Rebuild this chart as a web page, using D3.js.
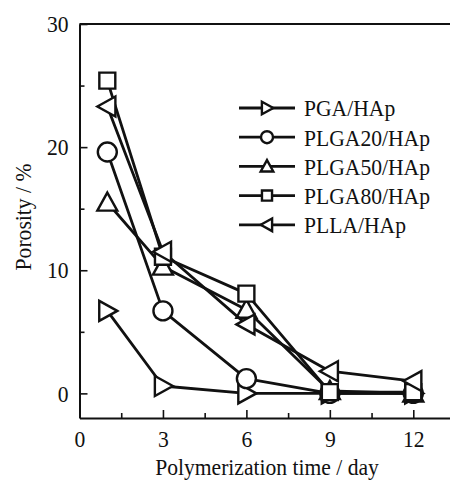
<!DOCTYPE html>
<html><head><meta charset="utf-8">
<script src="https://cdn.jsdelivr.net/npm/d3@7"></script>
<style>
body{margin:0;background:#fff;}
text{font-family:"Liberation Serif","Times New Roman",serif;fill:#111;}
</style></head><body>
<svg id="c" width="450" height="482"></svg>
<script>
const days = [1, 3, 6, 9, 12];
const seriesNames = ["PGA/HAp", "PLGA20/HAp", "PLGA50/HAp", "PLGA80/HAp", "PLLA/HAp"];
const seriesSymbols = ["triRight", "circle", "triUp", "square", "triLeft"];
const pgaHAp = [6.7, 0.6, 0, 0, 0];
const plga20HAp = [19.6, 6.7, 1.2, 0, 0];
const plga50HAp = [15.5, 10.3, 6.8, 0.2, 0];
const plga80HAp = [25.4, 11.1, 8.1, 0.1, 0.1];
const pllaHAp = [23.3, 11.5, 5.6, 1.8, 1.0];
const seriesValues = [pgaHAp, plga20HAp, plga50HAp, plga80HAp, pllaHAp];
const xTicks = [0, 3, 6, 9, 12];
const xMinorTicks = [1.5, 4.5, 7.5, 10.5];
const yTicks = [0, 10, 20, 30];
const yMinorTicks = [5, 15, 25];
const xTitle = "Polymerization time / day";
const yTitle = "Porosity / %";

const svg = d3.select("#c");
const L = 79.5, R = 455, T = 24, B = 418;
const x = d3.scaleLinear().domain([0, 13.5]).range([L, R]);
const y = d3.scaleLinear().domain([-2, 30]).range([B, T]);
const FS = 24, SX = 0.9;

function sym(type, s) {
  const p = d3.path();
  if (type === "circle") { p.arc(0, 0, s / 2, 0, 2 * Math.PI); p.closePath(); return p.toString(); }
  if (type === "square") { const h = s * 0.42; p.rect(-h, -h, 2 * h, 2 * h); return p.toString(); }
  const a = s * 0.5, b = s * 0.5;
  let pts;
  if (type === "triUp") pts = [[0, -b * 1.05], [a * 1.05, b * 0.85], [-a * 1.05, b * 0.85]];
  if (type === "triRight") pts = [[b * 1.05, 0], [-b * 0.85, -a * 1.05], [-b * 0.85, a * 1.05]];
  if (type === "triLeft") pts = [[-b * 1.05, 0], [b * 0.85, -a * 1.05], [b * 0.85, a * 1.05]];
  p.moveTo(pts[0][0], pts[0][1]); p.lineTo(pts[1][0], pts[1][1]); p.lineTo(pts[2][0], pts[2][1]); p.closePath();
  return p.toString();
}

// axes
const gx = svg.append("g").attr("transform", `translate(0,${B})`)
  .call(d3.axisBottom(x).tickValues(xTicks).tickSizeInner(-8).tickSizeOuter(0).tickPadding(11.5).tickFormat(d3.format("d")));
svg.append("g").attr("transform", `translate(0,${B})`)
  .call(d3.axisBottom(x).tickValues(xMinorTicks).tickSizeInner(-5).tickSizeOuter(0).tickFormat(""))
  .select(".domain").remove();
const gy = svg.append("g").attr("transform", `translate(${L},0)`)
  .call(d3.axisLeft(y).tickValues(yTicks).tickSizeInner(-8).tickSizeOuter(0).tickPadding(11).tickFormat(d3.format("d")));
svg.append("g").attr("transform", `translate(${L},0)`)
  .call(d3.axisLeft(y).tickValues(yMinorTicks).tickSizeInner(-5).tickSizeOuter(0).tickFormat(""))
  .select(".domain").remove();
svg.selectAll(".domain").attr("stroke", "#111").attr("stroke-width", 2);
svg.selectAll(".tick line").attr("stroke", "#111").attr("stroke-width", 1.6);
svg.selectAll(".tick text").style("font-family", '"Liberation Serif","Times New Roman",serif').style("font-size", FS + "px").attr("fill", "#111")
  .attr("transform", `scale(${SX},1)`);
gy.selectAll(".tick text").attr("x", -11 / SX);
svg.append("line").attr("x1", L).attr("x2", R).attr("y1", T).attr("y2", T).attr("stroke", "#111").attr("stroke-width", 2);

// titles
svg.append("text").attr("transform", `translate(267,475) scale(${SX},1)`).attr("text-anchor", "middle").style("font-size", FS + "px").text(xTitle);
svg.append("text").attr("transform", `translate(31,217) rotate(-90) scale(${SX},1)`).attr("text-anchor", "middle").style("font-size", FS + "px").text(yTitle);

// series
const line = d3.line().x((d, i) => x(days[i])).y(d => y(d));
seriesValues.forEach((vals, si) => {
  const g = svg.append("g");
  g.append("path").attr("d", line(vals)).attr("fill", "none").attr("stroke", "#111").attr("stroke-width", 2.8).attr("stroke-linejoin", "round");
  g.selectAll("path.m").data(vals).join("path").attr("class", "m")
    .attr("transform", (d, i) => `translate(${x(days[i])},${y(d)})`)
    .attr("d", sym(seriesSymbols[si], 19)).attr("fill", "#fff").attr("stroke", "#111").attr("stroke-width", 2.4);
});

// legend
const lg = svg.append("g");
seriesNames.forEach((name, i) => {
  const yy = 108 + i * 29.2;
  lg.append("line").attr("x1", 239).attr("x2", 295).attr("y1", yy).attr("y2", yy).attr("stroke", "#111").attr("stroke-width", 2.8);
  lg.append("path").attr("transform", `translate(267,${yy})`).attr("d", sym(seriesSymbols[i], 12)).attr("fill", "#fff").attr("stroke", "#111").attr("stroke-width", 2.4);
  lg.append("text").attr("transform", `translate(304,${yy}) scale(${SX},1)`).attr("dy", "0.35em").style("font-size", FS + "px").text(name);
});
</script></body></html>
